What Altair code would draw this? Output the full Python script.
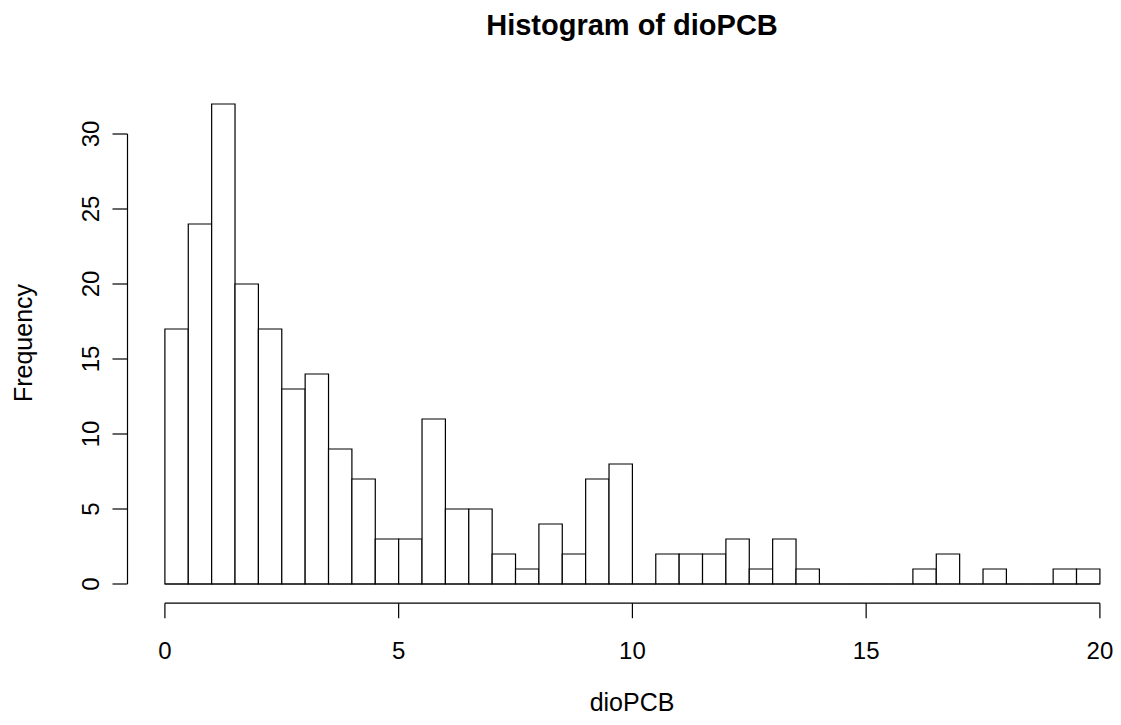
import altair as alt
import pandas as pd

# Histogram bins (width 0.5, from 0 to 20) and counts
bin_starts = [i * 0.5 for i in range(40)]
counts = [17, 24, 32, 20, 17, 13, 14, 9, 7, 3,
          3, 11, 5, 5, 2, 1, 4, 2, 7, 8,
          0, 2, 2, 2, 3, 1, 3, 1, 0, 0,
          0, 0, 1, 2, 0, 1, 0, 0, 1, 1]
x_ticks = [0, 5, 10, 15, 20]
y_ticks = [0, 5, 10, 15, 20, 25, 30]

title_text = "Histogram of dioPCB"
x_title = "dioPCB"
y_title = "Frequency"

FONT = "Liberation Sans"
PX_X = 46.75   # pixels per x unit
PX_Y = 15.0    # pixels per count
xdom = [-0.8, 20.2]
ydom = [-1.28, 33.28]
W = (xdom[1] - xdom[0]) * PX_X
H = (ydom[1] - ydom[0]) * PX_Y
LEFT = 119.5
TOP = 76.8
RIGHT = 1121 - 16 - LEFT - W
BOTTOM = 725 - 16 - TOP - H

bins = pd.DataFrame({
    "start": bin_starts,
    "end": [s + 0.5 for s in bin_starts],
    "count": counts,
    "zero": [0] * len(counts),
})
xt = pd.DataFrame({"v": x_ticks, "lab": [str(v) for v in x_ticks]})
yt = pd.DataFrame({"v": y_ticks, "lab": [str(v) for v in y_ticks]})
one = pd.DataFrame({"a": [0]})

xs = alt.Scale(domain=xdom, nice=False, zero=False)
ys = alt.Scale(domain=ydom, nice=False, zero=False)

bars = alt.Chart(bins).mark_rect(fill="white", stroke="black", strokeWidth=1.2).encode(
    x=alt.X("start:Q", scale=xs, axis=None),
    x2="end:Q",
    y=alt.Y("count:Q", scale=ys, axis=None),
    y2="zero:Q",
)

baseline = alt.Chart(bins).mark_rule(color="black", strokeWidth=1.2).encode(
    x=alt.X("min(start):Q", scale=xs, axis=None),
    x2="max(end):Q",
    y=alt.Y("min(zero):Q", scale=ys, axis=None),
)

# x axis
xline = alt.Chart(xt).mark_rule(color="black", strokeWidth=1.2).encode(
    x=alt.X("min(v):Q", scale=xs, axis=None),
    x2="max(v):Q",
    y=alt.value(H),
)
xtick = alt.Chart(xt).mark_rule(color="black", strokeWidth=1.2).encode(
    x=alt.X("v:Q", scale=xs, axis=None),
    y=alt.value(H),
    y2=alt.value(H + 15),
)
xlab = alt.Chart(xt).mark_text(font=FONT, fontSize=24, baseline="alphabetic", align="center", color="black").encode(
    x=alt.X("v:Q", scale=xs, axis=None),
    y=alt.value(659 - 8 - TOP),
    text="lab:N",
)

# y axis
yline = alt.Chart(yt).mark_rule(color="black", strokeWidth=1.2).encode(
    y=alt.Y("min(v):Q", scale=ys, axis=None),
    y2="max(v):Q",
    x=alt.value(0),
)
ytick = alt.Chart(yt).mark_rule(color="black", strokeWidth=1.2).encode(
    y=alt.Y("v:Q", scale=ys, axis=None),
    x=alt.value(-15),
    x2=alt.value(0),
)
ylab = alt.Chart(yt).mark_text(font=FONT, fontSize=24, baseline="alphabetic", align="center", angle=270, color="black").encode(
    y=alt.Y("v:Q", scale=ys, axis=None),
    x=alt.value(99 - 8 - LEFT),
    text="lab:N",
)

title = alt.Chart(one).mark_text(font=FONT, fontSize=29, fontWeight="bold", baseline="alphabetic", align="center", color="black").encode(
    x=alt.value(632 - 8 - LEFT), y=alt.value(35 - 8 - TOP), text=alt.value(title_text)
)
xttl = alt.Chart(one).mark_text(font=FONT, fontSize=25, baseline="alphabetic", align="center", color="black").encode(
    x=alt.value(632 - 8 - LEFT), y=alt.value(711 - 8 - TOP), text=alt.value(x_title)
)
yttl = alt.Chart(one).mark_text(font=FONT, fontSize=25, baseline="alphabetic", align="center", angle=270, color="black").encode(
    x=alt.value(32 - 8 - LEFT), y=alt.value(343 - 8 - TOP), text=alt.value(y_title)
)

chart = alt.layer(bars, baseline, xline, xtick, xlab, yline, ytick, ylab, title, xttl, yttl).properties(
    width=W, height=H,
    background="white",
    autosize=alt.AutoSizeParams(type="none"),
    padding={"left": LEFT, "top": TOP, "right": RIGHT, "bottom": BOTTOM},
).configure_view(stroke=None)

chart.save("out.html", embed_options={"renderer": "svg", "actions": False})
